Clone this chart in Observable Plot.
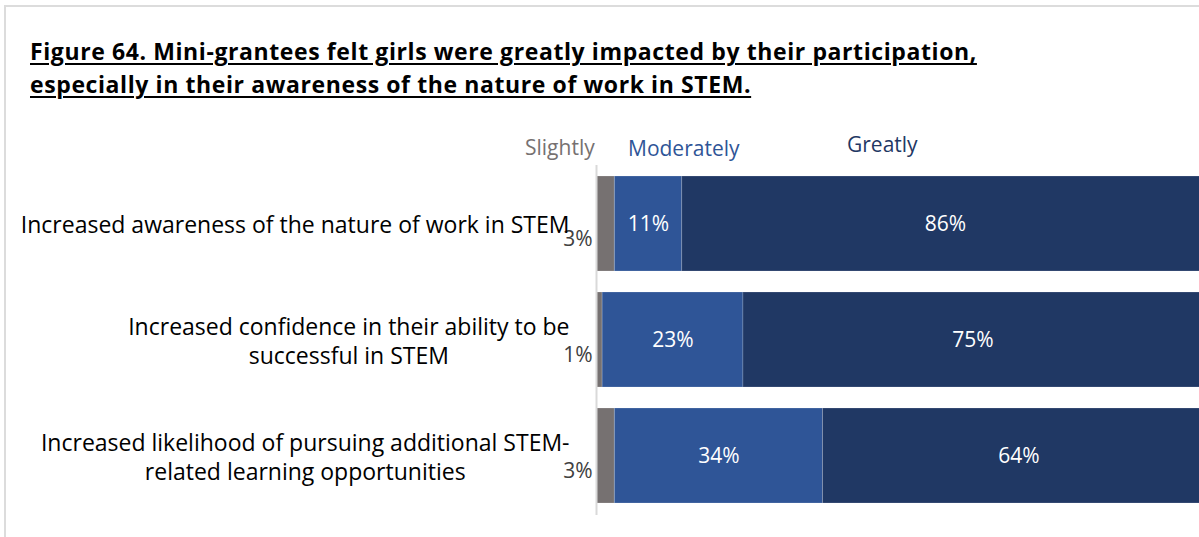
<!DOCTYPE html>
<html><head><meta charset="utf-8">
<script src="https://cdn.jsdelivr.net/npm/d3@7"></script>
<script src="https://cdn.jsdelivr.net/npm/@observablehq/plot@0.6"></script>
<style>
html,body{margin:0;padding:0;background:#fff;width:1199px;height:537px;overflow:hidden;position:relative;}
#frame{position:absolute;left:4px;top:5px;width:1200px;height:540px;border-top:2px solid #dcdcdc;border-left:2px solid #dcdcdc;}
#title{position:absolute;left:30px;top:35px;font-family:'Open Sans';font-weight:700;font-size:23px;letter-spacing:0.6px;line-height:33px;text-decoration:underline;text-decoration-thickness:2px;text-underline-offset:3px;color:#000;white-space:nowrap;}
.leg{position:absolute;font-family:'Open Sans';font-size:21px;line-height:26px;white-space:nowrap;}
#chart{position:absolute;left:0;top:120px;}
</style></head><body>
<div id="frame"></div>
<div id="title"></div>
<div id="legend"></div>
<div id="chart"></div>
<script>
const titleLines = ["Figure 64. Mini-grantees felt girls were greatly impacted by their participation,",
  "especially in their awareness of the nature of work in STEM."];
const categories = [
  "Increased awareness of the nature of work in STEM",
  "Increased confidence in their ability to be\nsuccessful in STEM",
  "Increased likelihood of pursuing additional STEM-\nrelated learning opportunities"
];
const levels = ["Slightly", "Moderately", "Greatly"];
const levelColors = ["#767171", "#2F5597", "#203864"];
const legendColors = ["#767171", "#2F5597", "#1F3864"];
const slightly = [3, 1, 3];
const moderately = [11, 23, 34];
const greatly = [86, 75, 64];

document.getElementById("title").innerHTML = titleLines.join("<br>");

// legend labels placed above the bars like the original
const legendPos = [{left: 525, top: 134}, {left: 628, top: 135}, {left: 847, top: 131}];
const legendEl = document.getElementById("legend");
levels.forEach((l, i) => {
  const d = document.createElement("div");
  d.className = "leg";
  d.textContent = l;
  d.style.left = legendPos[i].left + "px";
  d.style.top = legendPos[i].top + "px";
  d.style.color = legendColors[i];
  legendEl.appendChild(d);
});

const series = [slightly, moderately, greatly];
const rows = [];
categories.forEach((c, i) => levels.forEach((l, j) => rows.push({cat: c, level: l, value: series[j][i]})));

// measure label widths to center multi-line labels in a right-aligned block
const labelSize = 23;
const ctx = document.createElement("canvas").getContext("2d");
ctx.font = labelSize + "px 'Open Sans'";
const labelRight = 27;
const labelMarks = categories.map(c => {
  const w = Math.max(...c.split("\n").map(s => ctx.measureText(s).width));
  return Plot.text([c], {x: 0, y: d => d, text: d => d, textAnchor: "middle", lineHeight: 1.27,
    fontSize: labelSize, fill: "#000", dx: -(labelRight + w / 2)});
});

const chart = Plot.plot({
  width: 1199,
  height: 410,
  marginLeft: 596,
  marginRight: 0,
  marginTop: 45,
  marginBottom: 15,
  style: {fontFamily: "'Open Sans'", background: "transparent"},
  x: {domain: [0, 98.5], axis: null},
  y: {domain: categories, paddingInner: 0.18, paddingOuter: 0.095, axis: null},
  color: {domain: levels, range: levelColors},
  marks: [
    Plot.barX(rows, Plot.stackX({x: "value", y: "cat", fill: "level", order: levels, clip: true,
      stroke: "#ffffff", strokeOpacity: 0.18, strokeWidth: 1})),
    Plot.text(rows, Plot.stackX({x: "value", y: "cat", z: "level", order: levels,
      text: d => d.level === "Slightly" ? null : d.value + "%", fill: "white", fontSize: 21})),
    Plot.text(rows.filter(d => d.level === "Slightly"), {x: 0, y: "cat", text: d => d.value + "%",
      textAnchor: "end", dx: -4, dy: 15, fill: "#404040", fontSize: 21}),
    Plot.ruleX([0], {stroke: "#d9d9d9", strokeWidth: 2}),
    ...labelMarks
  ]
});
document.getElementById("chart").appendChild(chart);
</script>
</body></html>
